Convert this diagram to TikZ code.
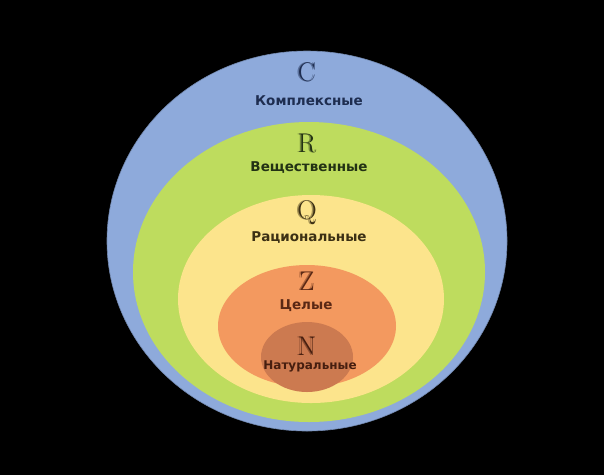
\documentclass[tikz,border=0pt]{standalone}
\usepackage{fontspec}
\newfontfamily\lblfont{DejaVu Sans}
\definecolor{cblue}{RGB}{142,170,219}
\definecolor{cgreen}{RGB}{190,220,94}
\definecolor{cyellow}{RGB}{252,228,140}
\definecolor{corange}{RGB}{243,153,95}
\definecolor{cbrown}{RGB}{204,122,80}
\definecolor{tblue}{RGB}{30,45,80}
\definecolor{tgreen}{RGB}{35,50,20}
\definecolor{tyellow}{RGB}{60,48,20}
\definecolor{torange}{RGB}{90,40,20}
\definecolor{tbrown}{RGB}{70,30,15}
\tikzset{
  setlet/.style={inner sep=0pt, font=\fontsize{27}{27}\selectfont},
  setshadow/.style={inner sep=0pt, font=\fontsize{27}{27}\selectfont, opacity=0.45},
  setname/.style={inner sep=0pt, font=\lblfont\bfseries\fontsize{13.5}{14}\selectfont},
}
\begin{document}
\begin{tikzpicture}[x=1pt,y=-1pt]
\fill[black] (0,0) rectangle (604,475);
\useasboundingbox (0,0) rectangle (604,475);
\fill[cblue, draw=cblue!80!black, line width=0.6pt] (307,241) ellipse [x radius=200, y radius=190];
\fill[cgreen] (309,272) ellipse [x radius=176, y radius=150];
\fill[cyellow] (311,299) ellipse [x radius=133, y radius=104];
\fill[corange] (307,326) ellipse [x radius=89, y radius=61];
\fill[cbrown] (307,357) ellipse [x radius=46, y radius=35];

\node[setshadow, text=tblue] (Cs) at (305.5,72) {C};
\node[setlet, text=tblue] (C) at (307,72) {C};
\node[setname, text=tblue] (Ct) at (309,101) {Комплексные};
\node[setshadow, text=tgreen] (Rs) at (305.5,143) {R};
\node[setlet, text=tgreen] (R) at (307,143) {R};
\node[setname, text=tgreen] (Rt) at (309,168) {Вещественные};
\node[setshadow, text=tyellow] (Qs) at (305.5,213) {Q};
\node[setlet, text=tyellow] (Q) at (307,213) {Q};
\node[setname, text=tyellow] (Qt) at (309,238) {Рациональные};
\node[setshadow, text=torange] (Zs) at (305.5,281) {Z};
\node[setlet, text=torange] (Z) at (307,281) {Z};
\node[setname, text=torange] (Zt) at (306,306) {Целые};
\node[setshadow, text=tbrown] (Ns) at (305.5,346) {N};
\node[setlet, text=tbrown] (N) at (307,346) {N};
\node[setname, text=tbrown, font=\lblfont\bfseries\fontsize{12}{12}\selectfont] (Nt) at (310,366) {Натуральные};
\end{tikzpicture}
\end{document}
